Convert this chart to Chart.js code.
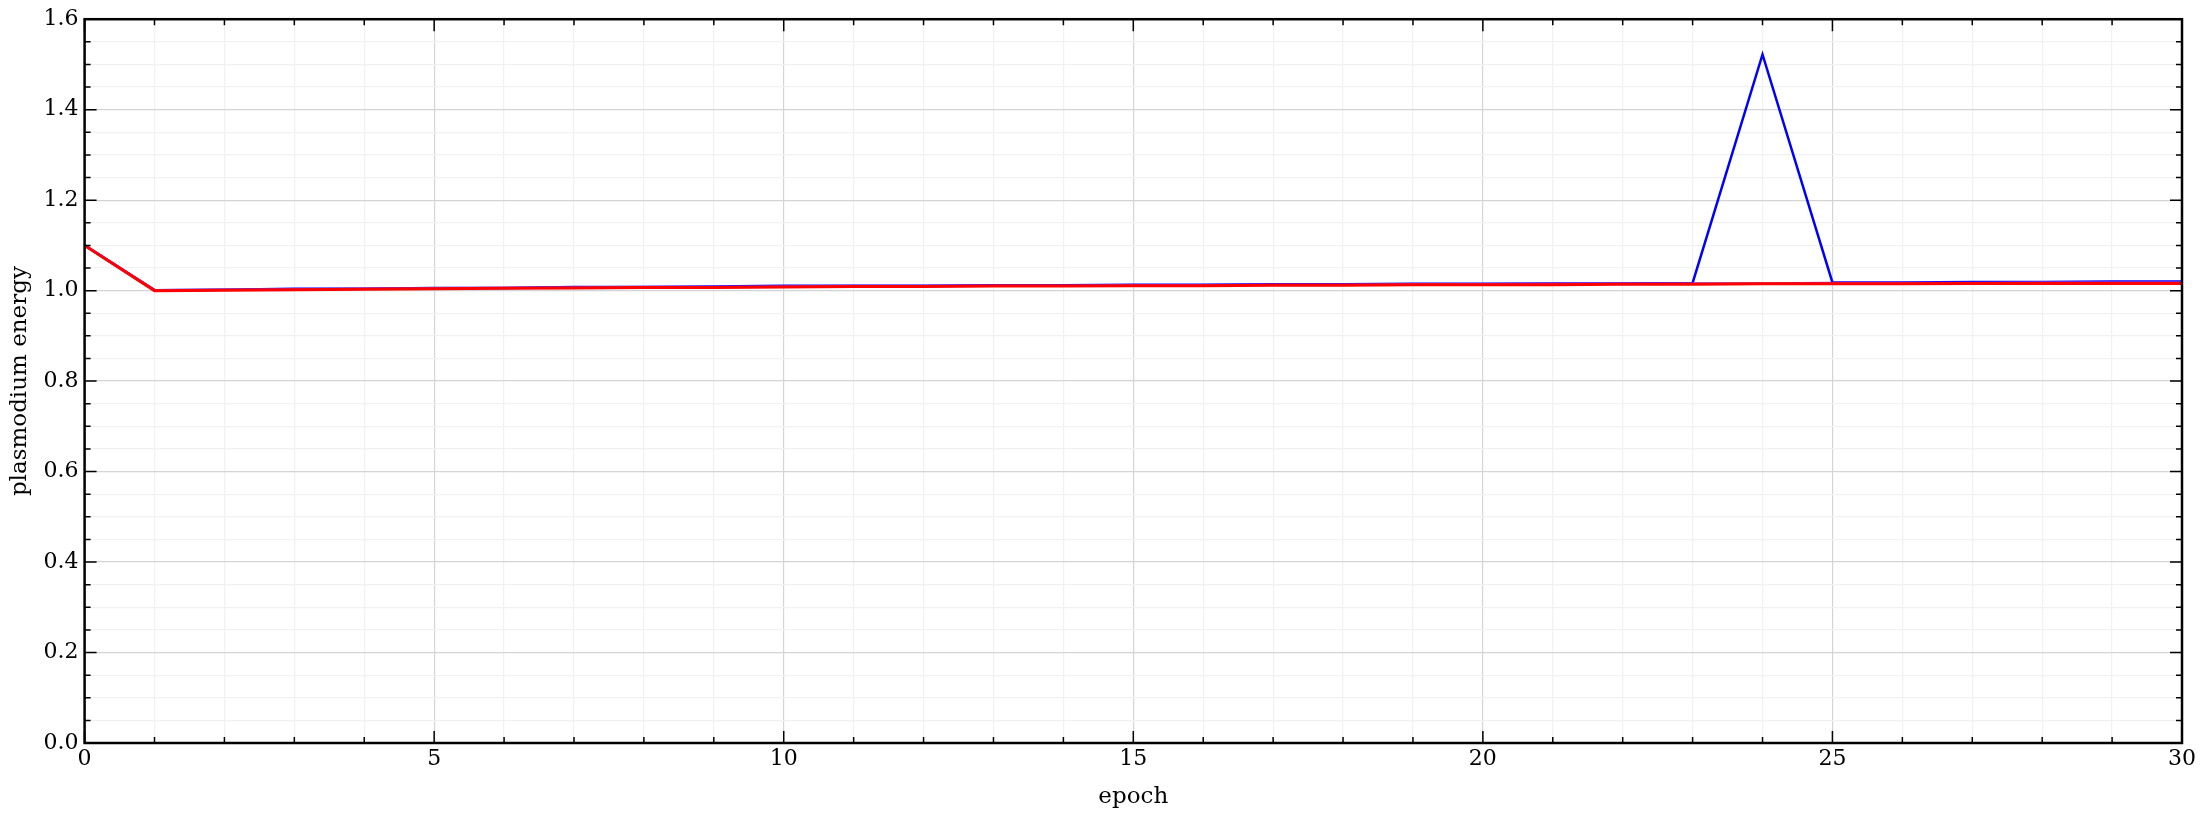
<!DOCTYPE html>
<html><head><meta charset="utf-8">
<script src="https://cdn.jsdelivr.net/npm/chart.js@4/dist/chart.umd.min.js"></script>
<style>html,body{margin:0;background:#fff}#wrap{width:2204px;height:819px}</style>
</head><body><div id="wrap"><canvas id="canvas"></canvas></div>
<script>
const epochs = [0,1,2,3,4,5,6,7,8,9,10,11,12,13,14,15,16,17,18,19,20,21,22,23,24,25,26,27,28,29,30];
const blueEnergy = [1.100,1.001,1.002,1.004,1.004,1.006,1.006,1.008,1.008,1.009,1.011,1.011,1.011,1.012,1.012,1.013,1.013,1.014,1.014,1.015,1.015,1.016,1.016,1.017,1.522,1.018,1.018,1.019,1.019,1.020,1.020];
const violetEnergy = [1.100,1.001,1.002,1.003,1.004,1.005,1.006,1.007,1.008,1.008,1.009,1.010,1.010,1.011,1.011,1.012,1.012,1.013,1.013,1.014,1.014,1.015,1.015,1.016,1.016,1.017,1.017,1.017,1.018,1.018,1.018];
const redEnergy = [1.100,1.000,1.001,1.002,1.003,1.004,1.005,1.006,1.007,1.007,1.008,1.009,1.009,1.010,1.010,1.011,1.011,1.012,1.012,1.013,1.013,1.013,1.014,1.014,1.015,1.015,1.015,1.016,1.016,1.016,1.016];

const serif = "'DejaVu Serif', 'Liberation Serif', serif";
const pts = (ys) => epochs.map((x, i) => ({x, y: ys[i]}));

const inwardTicks = {
  id: 'inwardTicks',
  afterDraw(chart) {
    const {ctx, chartArea: a, scales: {x, y}} = chart;
    ctx.save();
    ctx.strokeStyle = '#000';
    ctx.lineWidth = 1.5;
    for (let v = 0; v <= 30; v++) {
      const px = x.getPixelForValue(v), len = v % 5 === 0 ? 12 : 6;
      ctx.beginPath();
      ctx.moveTo(px, a.bottom); ctx.lineTo(px, a.bottom - len);
      ctx.moveTo(px, a.top); ctx.lineTo(px, a.top + len);
      ctx.stroke();
    }
    for (let k = 0; k <= 32; k++) {
      const py = y.getPixelForValue(k * 0.05), len = k % 4 === 0 ? 12 : 6;
      ctx.beginPath();
      ctx.moveTo(a.left, py); ctx.lineTo(a.left + len, py);
      ctx.moveTo(a.right, py); ctx.lineTo(a.right - len, py);
      ctx.stroke();
    }
    ctx.lineWidth = 2.5;
    ctx.strokeRect(a.left, a.top, a.right - a.left, a.bottom - a.top);
    ctx.restore();
  }
};

new Chart(document.getElementById('canvas'), {
  type: 'line',
  data: {
    datasets: [
      {label: 'red', data: pts(redEnergy), borderColor: '#ff0000', borderWidth: 3, pointRadius: 0, tension: 0},
      {label: 'violet', data: pts(violetEnergy), borderColor: '#9933cc', borderWidth: 2.5, pointRadius: 0, tension: 0},
      {label: 'blue', data: pts(blueEnergy), borderColor: '#0000ff', borderWidth: 2.5, pointRadius: 0, tension: 0}
    ]
  },
  options: {
    responsive: true, maintainAspectRatio: false, animation: false,
    layout: {padding: {top: 16, right: 22, left: 2, bottom: 4}},
    plugins: {legend: {display: false}, tooltip: {enabled: false}},
    scales: {
      x: {
        type: 'linear', min: 0, max: 30,
        ticks: {stepSize: 1, autoSkip: false, maxRotation: 0, color: '#000', font: {family: serif, size: 22},
          callback: v => v % 5 === 0 ? v : ''},
        grid: {drawTicks: false, color: c => c.tick.value % 5 === 0 ? '#d4d4d4' : '#f1f1f1', lineWidth: 1.2},
        border: {display: false},
        title: {display: true, text: 'epoch', color: '#000', font: {family: serif, size: 23}, padding: {top: 8}}
      },
      y: {
        min: 0, max: 1.6,
        ticks: {stepSize: 0.05, autoSkip: false, color: '#000', font: {family: serif, size: 22}, padding: 6,
          callback: v => Math.abs(v / 0.2 - Math.round(v / 0.2)) < 1e-6 ? v.toFixed(1) : ''},
        grid: {drawTicks: false, color: c => Math.abs(c.tick.value / 0.2 - Math.round(c.tick.value / 0.2)) < 1e-6 ? '#d4d4d4' : '#f1f1f1', lineWidth: 1.2},
        border: {display: false},
        title: {display: true, text: 'plasmodium energy', color: '#000', font: {family: serif, size: 23}, padding: {bottom: 4}}
      }
    }
  },
  plugins: [inwardTicks]
});
</script></body></html>
